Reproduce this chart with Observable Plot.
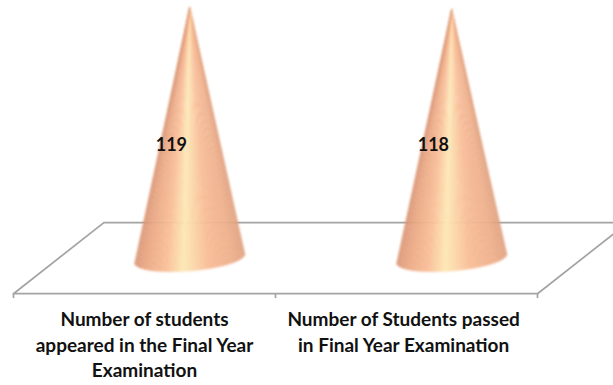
<!DOCTYPE html>
<html>
<head>
<meta charset="utf-8">
<script src="https://cdn.jsdelivr.net/npm/d3@7"></script>
<script src="https://cdn.jsdelivr.net/npm/@observablehq/plot@0.6"></script>
<style>html,body{margin:0;padding:0;background:#fff}svg{display:block}.cone{filter:blur(0.8px)}</style>
</head>
<body>
<div id="chart"></div>
<script>
const categories = [
  "Number of students\nappeared in the Final Year\nExamination",
  "Number of Students passed\nin Final Year Examination"
];
const values = [119, 118];

// 3D look of the chart, in data units
const depthX = 0.345, floorBack = 17, floorFront = -16.7, tickEnd = -19;
const coneRx = 0.21, coneTilt = 2.1, coneRy = 5.9;
const shadeStops = [0, 0.12, 0.33, 0.56, 0.72, 0.9, 1];
const shadeColors = ["#dfa07d", "#efb08c", "#f8bd98", "#fde8b6", "#f9bf99", "#eba985", "#da9675"];
const shade = d3.scaleLinear().domain(shadeStops).range(shadeColors);

// The cone is a fan of thin wedges from its tip, shaded by their position round the cone
const coneWedges = (v, i) => {
  const cx = i + 0.5 + depthX / 2;
  const rim = (deg) => {
    const a = deg * Math.PI / 180;
    return {x: cx + coneRx * Math.cos(a), y: coneTilt * Math.cos(a) - coneRy * Math.sin(a)};
  };
  return d3.range(0, 180, 3).flatMap((deg) => {
    const color = shade((1 - Math.cos((deg + 1.5) * Math.PI / 180)) / 2);
    const key = `${i}-${deg}`;
    return [{x: cx, y: v}, rim(deg), rim(deg + 3)].map((p) => ({...p, key, color}));
  });
};
const n = categories.length;
const floorOutline = [
  {x: depthX + n, y: floorBack}, {x: depthX, y: floorBack},
  {x: 0, y: floorFront}, {x: n, y: floorFront}, {x: n + depthX, y: floorBack}
];
const floorStyle = {stroke: "#a3a3a3", strokeWidth: 1.7};
const textStyle = {fontFamily: "Lato, sans-serif", fontWeight: 700, fill: "#111", stroke: "none"};

const plot = Plot.plot({
  width: 613, height: 385,
  margin: 0,
  x: {domain: [0, n], range: [13, 537], axis: null},
  y: {domain: [0, 119], range: [258, 7], axis: null},
  color: {type: "identity"},
  style: {background: "#fff", overflow: "hidden"},
  marks: [
    Plot.line(floorOutline, {x: "x", y: "y", ...floorStyle}),
    Plot.ruleX(d3.range(n + 1), {y1: floorFront, y2: tickEnd, ...floorStyle}),
    Plot.line(values.flatMap(coneWedges), {
      x: "x", y: "y", z: "key", fill: "color", stroke: "color", strokeWidth: 0.5, className: "cone"
    }),
    Plot.text(values, {
      x: (v, i) => i + 0.5 + depthX / 2 - 0.07, y: 53.5, text: String,
      fontSize: 18, ...textStyle
    }),
    Plot.text(categories, {
      x: (c, i) => i + 0.5 - i * 0.011, y: -23.5, text: d => d, lineAnchor: "top",
      fontSize: 19, lineHeight: 1.34, ...textStyle
    })
  ]
});
document.getElementById("chart").append(plot);
</script>
</body>
</html>
